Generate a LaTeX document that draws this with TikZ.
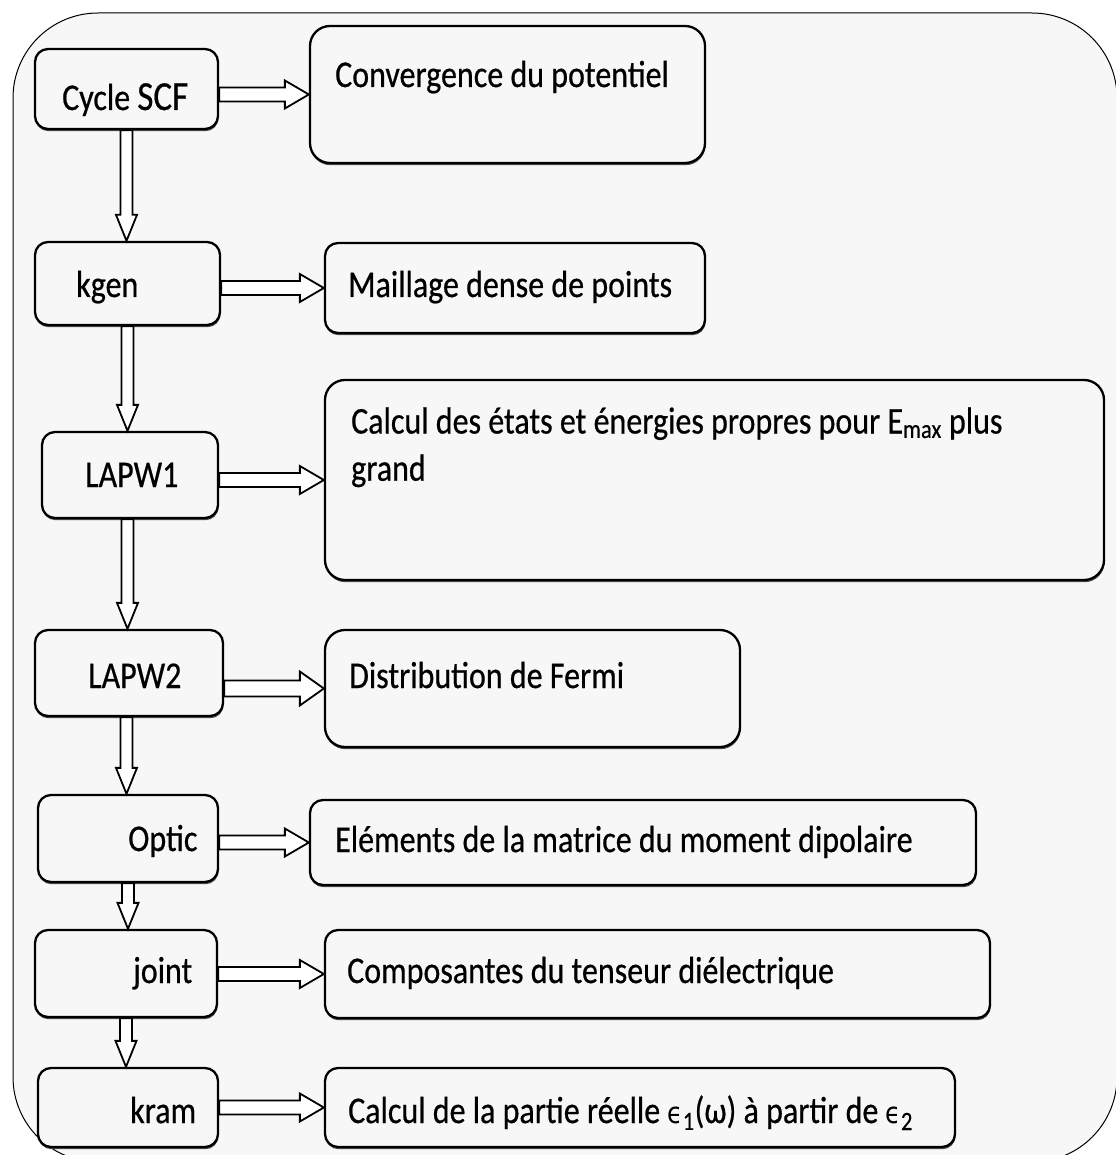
\documentclass[tikz,border=0pt]{standalone}
\usepackage{fontspec}
\setmainfont{Carlito}[FakeBold=0.6]
\newfontfamily\symfont{DejaVu Sans}
\usetikzlibrary{calc,shadows}

% vertically stretched label text
\newcommand{\tall}[1]{\scalebox{1}[1.18]{#1}}
% lunate epsilon, sized to the lower-case letters
\newcommand{\eps}{{\symfont\fontsize{25}{30}\selectfont ϵ}}

\tikzset{
  ar sw/.store in=\arsw, ar hw/.store in=\arhw, ar hl/.store in=\arhl,
  ar sw=7pt, ar hw=14pt, ar hl=24pt,
  % outlined block arrow, drawn from start to target of a "to"
  hollow/.style={draw=black, fill=white, line width=1.8pt, line join=miter,
    to path={
      let \p1=(\tikztostart), \p2=(\tikztotarget),
          \p3=($(\tikztotarget)!\arhl!(\tikztostart)$)
      in ($(\p1)!\arsw!90:(\p2)$) -- ($(\p3)!\arsw!90:(\p2)$)
         -- ($(\p3)!\arhw!90:(\p2)$) -- (\p2)
         -- ($(\p3)!\arhw!-90:(\p2)$) -- ($(\p3)!\arsw!-90:(\p2)$)
         -- ($(\p1)!\arsw!-90:(\p2)$) -- cycle}},
  hz/.style={hollow, ar sw=7pt, ar hw=14pt, ar hl=24pt},
  vt/.style={hollow, ar sw=6pt, ar hw=10.5pt, ar hl=26pt},
  box/.style={draw=black, line width=2.3pt, rounded corners=13pt, fill=black!3,
    drop shadow={shadow xshift=0.5pt, shadow yshift=-2.2pt, fill=black!70, opacity=1}},
  bigbox/.style={box, rounded corners=20pt},
  lbl/.style={anchor=base west, inner sep=0pt, font=\fontsize{32}{40}\selectfont},
}

\begin{document}
\begin{tikzpicture}[x=1pt,y=-1pt]
\useasboundingbox (0,0) rectangle (1115,1155);
\fill[white] (0,0) rectangle (1115,1155);

% outer frame
\draw[line width=1pt, fill=black!3, rounded corners=85pt] (13,13) rectangle (1117,1162);

% program steps (left column)
\node[box, minimum width=183pt, minimum height=80pt] (b1) at (126.5,89) {};
\node[box, minimum width=185pt, minimum height=83pt] (b2) at (127.5,283.5) {};
\node[box, minimum width=176pt, minimum height=86pt] (b3) at (130,475) {};
\node[box, minimum width=188pt, minimum height=86pt] (b4) at (129,673) {};
\node[box, minimum width=180pt, minimum height=87pt] (b5) at (128,838.5) {};
\node[box, minimum width=182pt, minimum height=87pt] (b6) at (126,973.5) {};
\node[box, minimum width=180pt, minimum height=79pt] (b7) at (128,1107.5) {};

% what each step does (right column)
\node[bigbox, minimum width=395pt, minimum height=137pt] (r1) at (507.5,94.5) {};
\node[box, minimum width=380pt, minimum height=90pt] (r2) at (515,288) {};
\node[bigbox, minimum width=779pt, minimum height=200pt] (r3) at (714.5,480) {};
\node[bigbox, minimum width=415pt, minimum height=117pt] (r4) at (532.5,688.5) {};
\node[box, minimum width=666pt, minimum height=85pt] (r5) at (643,842.5) {};
\node[box, minimum width=665pt, minimum height=88pt] (r6) at (657.5,974) {};
\node[box, minimum width=630pt, minimum height=79pt] (r7) at (640,1107.5) {};

% labels
\node[lbl] (t1) at (62,110) {\tall{Cycle {\fontsize{35}{42}\selectfont SCF}}};
\node[lbl] (t2) at (76,297) {\tall{kgen}};
\node[lbl] (t3) at (85,487) {\tall{LAPW1}};
\node[lbl] (t4) at (88,688) {\tall{LAPW2}};
\node[lbl] (t5) at (128,851) {\tall{Optic}};
\node[lbl] (t6) at (133,983) {\tall{joint}};
\node[lbl] (t7) at (130,1123) {\tall{kram}};

\node[lbl] (u1) at (335,87) {\tall{Convergence du potentiel}};
\node[lbl] (u2) at (348,297) {\tall{Maillage dense de points}};
\node[lbl] (u3) at (351,455) {\tall{\begin{tabular}{@{}l@{}}Calcul des états et énergies propres pour E\textsubscript{max} plus\\grand\end{tabular}}};
\node[lbl] (u4) at (349,688) {\tall{Distribution de Fermi}};
\node[lbl] (u5) at (335,852) {\tall{Eléments de la matrice du moment dipolaire}};
\node[lbl] (u6) at (347,983) {\tall{Composantes du tenseur diélectrique}};
\node[lbl] (u7) at (348,1123) {\tall{Calcul de la partie réelle \eps\textsubscript{1}(ω) à partir de \eps\textsubscript{2}}};

% flow downwards
\draw[vt] (b1.south) to (b1.south |- b2.north);
\draw[vt] (b2.south) to (b2.south |- b3.north);
\draw[vt] (b3.south -| b2.south) to (b2.south |- b4.north);
\draw[vt] (b4.south -| b1.south) to (b1.south |- b5.north);
\draw[vt] (b5.south) to (b5.south |- b6.north);
\draw[vt] (b6.south) to (b6.south |- b7.north);

% step -> result
\draw[hz] (b1.east |- r1.west) to (r1.west);
\draw[hz] (b2.east |- r2.west) to (r2.west);
\draw[hz] (b3.east |- r3.west) to (r3.west);
\draw[hz, ar sw=8pt, ar hw=17pt] (b4.east |- r4.west) to (r4.west);
\draw[hz] (b5.east |- r5.west) to (r5.west);
\draw[hz] (b6.east |- r6.west) to (r6.west);
\draw[hz] (b7.east |- r7.west) to (r7.west);
\end{tikzpicture}
\end{document}
